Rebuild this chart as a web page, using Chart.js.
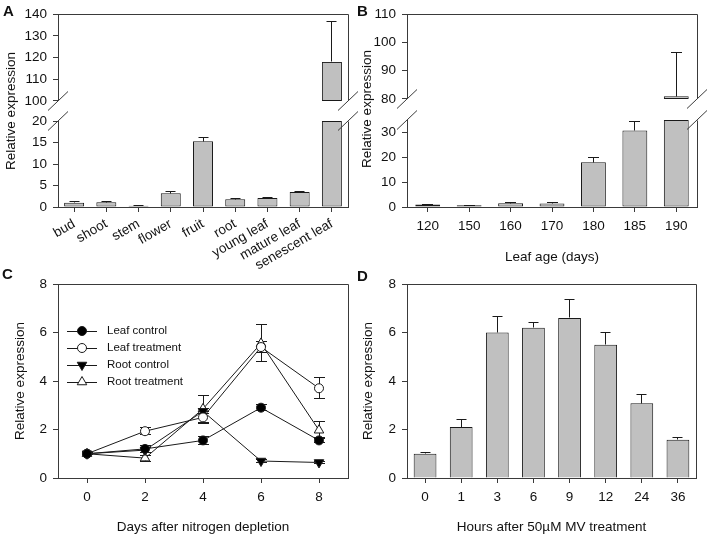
<!DOCTYPE html>
<html>
<head>
<meta charset="utf-8">
<script src="https://cdn.jsdelivr.net/npm/chart.js"></script>
<style>
  body { margin: 0; background: #fff; }
  #page { position: relative; width: 709px; height: 536px; overflow: hidden;
          font-family: "Liberation Sans", Arial, sans-serif; color: #111; }
  canvas { position: absolute; left: 0; top: 0; }
  .lbl { position: absolute; font-weight: bold; font-size: 15px; line-height: 15px; }
  .yt { position: absolute; width: 200px; height: 16px; line-height: 16px; text-align: center;
        font-size: 13.5px; transform: rotate(-90deg); }
</style>
</head>
<body>
<div id="page">
  <canvas id="aTop" width="709" height="536"></canvas>
  <canvas id="aLow" width="709" height="536"></canvas>
  <canvas id="bTop" width="709" height="536"></canvas>
  <canvas id="bLow" width="709" height="536"></canvas>
  <canvas id="cLine" width="709" height="536"></canvas>
  <canvas id="dBar" width="709" height="536"></canvas>
  <div class="lbl" style="left:3px;top:3px">A</div>
  <div class="lbl" style="left:357px;top:3px">B</div>
  <div class="lbl" style="left:2px;top:266px">C</div>
  <div class="lbl" style="left:357px;top:268px">D</div>
  <div class="yt" style="left:-89px;top:103px">Relative expression</div>
  <div class="yt" style="left:267px;top:101px">Relative expression</div>
</div>
<script>
// panel A - tissues
const tissues = ['bud', 'shoot', 'stem', 'flower', 'fruit', 'root', 'young leaf', 'mature leaf', 'senescent leaf'];
const tissueExpr = [1.0, 1.1, 0.3, 3.2, 15.3, 1.8, 2.1, 3.5, 118];
const tissueErr = [0.2, 0.2, 0.1, 0.4, 0.85, 0.1, 0.1, 0.1, 18.5];
const aHighTicks = [100, 110, 120, 130, 140];
const aLowTicks = [0, 5, 10, 15, 20];

// panel B - leaf age
const leafAge = ['120', '150', '160', '170', '180', '185', '190'];
const ageExpr = [1.0, 0.7, 1.5, 1.4, 18.0, 30.8, 81];
const ageErr = [0.15, 0.1, 0.2, 0.3, 1.9, 3.5, 15.5];
const bHighTicks = [80, 90, 100, 110];
const bLowTicks = [0, 10, 20, 30];
const bLowMax = 35;

// panel C - nitrogen depletion
const days = [0, 2, 4, 6, 8];
const leafControl = [1.0, 1.2, 1.55, 2.9, 1.55];
const leafControlErr = [0.05, 0.15, 0.15, 0.12, 0.1];
const leafTreat = [1.0, 1.93, 2.5, 5.4, 3.7];
const leafTreatErr = [0.05, 0.15, 0.25, 0.22, 0.43];
const rootControl = [1.0, 1.15, 2.75, 0.7, 0.64];
const rootControlErr = [0.05, 0.1, 0.1, 0.06, 0.05];
const rootTreat = [1.0, 0.82, 2.85, 5.55, 1.97];
const rootTreatErr = [0.05, 0.12, 0.55, 0.76, 0.35];
const cTicks = [0, 2, 4, 6, 8];

// panel D - MV treatment
const hours = ['0', '1', '3', '6', '9', '12', '24', '36'];
const mvExpr = [1.0, 2.1, 6.0, 6.2, 6.6, 5.5, 3.08, 1.58];
const mvErr = [0.06, 0.33, 0.68, 0.22, 0.75, 0.52, 0.37, 0.08];
const dTicks = [0, 2, 4, 6, 8];

const W = 709, H = 536;
const AXIS = '#3a3a3a';
const INK = '#1a1a1a';

Chart.defaults.font.family = '"Liberation Sans", Arial, sans-serif';
Chart.defaults.font.size = 13.5;
Chart.defaults.color = '#111';
Chart.defaults.animation = false;
Chart.defaults.responsive = false;
Chart.defaults.events = [];
Chart.defaults.plugins.legend.display = false;
Chart.defaults.plugins.tooltip.enabled = false;

function align(v) { return Math.round(v - 0.5) + 0.5; }

// error bars, drawn from the y scale
function drawErrors(chart, o) {
  const { ctx, chartArea: a } = chart;
  const ys = chart.scales.y;
  ctx.save();
  ctx.beginPath();
  ctx.rect(a.left, a.top - 1, a.right - a.left, a.bottom - a.top + 2);
  ctx.clip();
  ctx.strokeStyle = INK;
  ctx.lineWidth = 1;
  o.sets.forEach(s => {
    const meta = chart.getDatasetMeta(s.index);
    s.values.forEach((v, i) => {
      const e = s.errors[i];
      const x = align(meta.data[i].x);
      const yTop = align(ys.getPixelForValue(v + e));
      const yBot = align(ys.getPixelForValue(s.both ? v - e : v));
      ctx.beginPath();
      ctx.moveTo(x, yTop); ctx.lineTo(x, yBot);
      ctx.moveTo(x - o.cap, yTop); ctx.lineTo(x + o.cap, yTop);
      if (s.both) { ctx.moveTo(x - o.cap, yBot); ctx.lineTo(x + o.cap, yBot); }
      ctx.stroke();
    });
  });
  ctx.restore();
}

const errorBars = {
  id: 'errorBars',
  beforeDatasetsDraw(chart, args, o) { if (o.sets) drawErrors(chart, o); }
};

// top / right frame lines
const frame = {
  id: 'frame',
  afterDraw(chart, args, o) {
    const { ctx, chartArea: a } = chart;
    const L = align(a.left), R = align(a.right), T = align(a.top), B = align(a.bottom);
    ctx.save();
    ctx.strokeStyle = AXIS;
    ctx.lineWidth = 1;
    ctx.beginPath();
    if (o.top) { ctx.moveTo(L, T); ctx.lineTo(R, T); }
    if (o.right) { ctx.moveTo(R, T); ctx.lineTo(R, B); }
    ctx.stroke();
    ctx.restore();
  }
};

// axis break slashes
const breaks = {
  id: 'breaks',
  afterDraw(chart, args, o) {
    if (!o.edge) return;
    const { ctx, chartArea: a } = chart;
    const y = o.edge === 'top' ? a.top : a.bottom;
    ctx.save();
    ctx.strokeStyle = AXIS;
    ctx.lineWidth = 1;
    ctx.beginPath();
    [a.left, a.right].forEach(x => {
      ctx.moveTo(x - 10, y + 9.5);
      ctx.lineTo(x + 10, y - 9.5);
    });
    ctx.stroke();
    ctx.restore();
  }
};

function drawMarker(ctx, style, rot, r, x, y) {
  ctx.beginPath();
  if (style === 'triangle') {
    let ang = rot * Math.PI / 180;
    for (let k = 0; k < 3; k++) {
      const px = x + Math.sin(ang) * r, py = y - Math.cos(ang) * r;
      if (k === 0) ctx.moveTo(px, py); else ctx.lineTo(px, py);
      ang += 2 * Math.PI / 3;
    }
    ctx.closePath();
  } else {
    ctx.arc(x, y, r, 0, Math.PI * 2);
  }
  ctx.fill();
  ctx.stroke();
}

// legend with line + marker sample, inside the plot area
const lineLegend = {
  id: 'lineLegend',
  afterDraw(chart, args, o) {
    if (!o.x) return;
    const ctx = chart.ctx;
    ctx.save();
    ctx.font = '11.5px "Liberation Sans", Arial, sans-serif';
    ctx.textBaseline = 'middle';
    chart.data.datasets.forEach((ds, i) => {
      const y = o.y + i * o.gap;
      ctx.strokeStyle = ds.borderColor;
      ctx.lineWidth = 1;
      ctx.beginPath();
      ctx.moveTo(o.x, y + 0.5); ctx.lineTo(o.x + o.len, y + 0.5);
      ctx.stroke();
      ctx.fillStyle = ds.pointBackgroundColor;
      drawMarker(ctx, ds.pointStyle, ds.pointRotation || 0, ds.pointRadius, o.x + o.len / 2, y);
      ctx.fillStyle = '#111';
      ctx.fillText(ds.label, o.x + o.len + 10, y);
    });
    ctx.restore();
  }
};

Chart.register(errorBars, frame, breaks, lineLegend);

function pad(area, yW, xH) {
  return { padding: { left: area.l - yW, top: area.t, right: W - area.r, bottom: H - area.b - (xH || 0) } };
}

function yAxis(ticksArr, min, max, width, extra) {
  return Object.assign({
    type: 'linear', min: min, max: max,
    afterBuildTicks: s => { s.ticks = ticksArr.map(v => ({ value: v })); },
    afterFit: s => { s.width = width; },
    ticks: { padding: 6 },
    grid: { drawOnChartArea: false, tickLength: 5, color: AXIS },
    border: { color: AXIS, width: 1 }
  }, extra || {});
}

function xCat(height, extra) {
  return Object.assign({
    type: 'category', offset: true,
    afterFit: s => { s.height = height; },
    ticks: { padding: 6, minRotation: 0, maxRotation: 0, autoSkip: false },
    grid: { offset: false, drawOnChartArea: false, tickLength: 5, color: AXIS },
    border: { color: AXIS, width: 1 }
  }, extra || {});
}

const barStyle = { backgroundColor: '#c0c0c0', borderColor: INK, borderWidth: 1, categoryPercentage: 1 };
const YW = 45;

// ---------- A ----------
const aTopArea = { l: 58, t: 14, r: 348, b: 101 };
const aLowArea = { l: 58, t: 121, r: 348, b: 207 };
const aHighMin = aHighTicks[0], aLowMax = aLowTicks[aLowTicks.length - 1];

new Chart('aTop', {
  type: 'bar',
  data: {
    labels: tissues,
    datasets: [Object.assign({
      data: tissueExpr.map(v => v > aHighMin ? [aHighMin, v] : null),
      barPercentage: 0.62, borderSkipped: false
    }, barStyle)]
  },
  options: {
    layout: pad(aTopArea, YW),
    scales: {
      x: { type: 'category', offset: true, display: false },
      y: yAxis(aHighTicks, aHighMin, aHighTicks[aHighTicks.length - 1], YW)
    },
    plugins: {
      errorBars: { cap: 5, sets: [{ index: 0, values: tissueExpr, errors: tissueErr }] },
      frame: { top: true, right: true },
      breaks: { edge: 'bottom' }
    }
  }
});

new Chart('aLow', {
  type: 'bar',
  data: {
    labels: tissues,
    datasets: [Object.assign({
      data: tissueExpr.map(v => Math.min(v, aLowMax)),
      barPercentage: 0.62, borderSkipped: false
    }, barStyle)]
  },
  options: {
    layout: pad(aLowArea, YW, 80),
    scales: {
      x: xCat(80, { ticks: { padding: 4, minRotation: 30, maxRotation: 30, autoSkip: false } }),
      y: yAxis(aLowTicks, 0, aLowMax, YW)
    },
    plugins: {
      errorBars: { cap: 5, sets: [{ index: 0, values: tissueExpr, errors: tissueErr }] },
      frame: { right: true },
      breaks: { edge: 'top' }
    }
  }
});

// ---------- B ----------
const bTopArea = { l: 407, t: 14, r: 697, b: 99 };
const bLowArea = { l: 407, t: 120, r: 697, b: 207 };
const bHighMin = bHighTicks[0];

new Chart('bTop', {
  type: 'bar',
  data: {
    labels: leafAge,
    datasets: [Object.assign({
      data: ageExpr.map(v => v > bHighMin ? [bHighMin, v] : null),
      barPercentage: 0.6, borderSkipped: false
    }, barStyle)]
  },
  options: {
    layout: pad(bTopArea, YW),
    scales: {
      x: { type: 'category', offset: true, display: false },
      y: yAxis(bHighTicks, bHighMin, bHighTicks[bHighTicks.length - 1], YW)
    },
    plugins: {
      errorBars: { cap: 5.5, sets: [{ index: 0, values: ageExpr, errors: ageErr }] },
      frame: { top: true, right: true },
      breaks: { edge: 'bottom' }
    }
  }
});

new Chart('bLow', {
  type: 'bar',
  data: {
    labels: leafAge,
    datasets: [Object.assign({
      data: ageExpr.map(v => Math.min(v, bLowMax)),
      barPercentage: 0.6, borderSkipped: false
    }, barStyle)]
  },
  options: {
    layout: pad(bLowArea, YW, 58),
    scales: {
      x: xCat(58, { title: { display: true, text: 'Leaf age (days)', padding: 0 } }),
      y: yAxis(bLowTicks, 0, bLowMax, YW)
    },
    plugins: {
      errorBars: { cap: 5.5, sets: [{ index: 0, values: ageExpr, errors: ageErr }] },
      frame: { right: true },
      breaks: { edge: 'top' }
    }
  }
});

// ---------- C ----------
const cArea = { l: 58, t: 284, r: 348, b: 478 };
const lineBase = { borderColor: INK, borderWidth: 1, pointBorderColor: INK, pointBorderWidth: 1, tension: 0 };
const pts = vals => days.map((d, i) => ({ x: d, y: vals[i] }));

new Chart('cLine', {
  type: 'line',
  data: {
    datasets: [
      Object.assign({ label: 'Leaf control', data: pts(leafControl), pointStyle: 'circle', pointRadius: 4.5, pointBackgroundColor: '#000' }, lineBase),
      Object.assign({ label: 'Leaf treatment', data: pts(leafTreat), pointStyle: 'circle', pointRadius: 4.5, pointBackgroundColor: '#fff' }, lineBase),
      Object.assign({ label: 'Root control', data: pts(rootControl), pointStyle: 'triangle', pointRotation: 180, pointRadius: 5.5, pointBackgroundColor: '#000' }, lineBase),
      Object.assign({ label: 'Root treatment', data: pts(rootTreat), pointStyle: 'triangle', pointRadius: 5.5, pointBackgroundColor: '#fff' }, lineBase)
    ]
  },
  options: {
    layout: pad(cArea, 45.4, 57),
    scales: {
      x: {
        type: 'linear', min: -1, max: 9,
        afterBuildTicks: s => { s.ticks = days.map(v => ({ value: v })); },
        afterFit: s => { s.height = 57; },
        ticks: { padding: 6 },
        grid: { drawOnChartArea: false, tickLength: 5, color: AXIS },
        border: { color: AXIS, width: 1 },
        title: { display: true, text: 'Days after nitrogen depletion', padding: 0 }
      },
      y: yAxis(cTicks, 0, 8, 45.4, { title: { display: true, text: 'Relative expression', padding: 0 } })
    },
    plugins: {
      errorBars: {
        cap: 5.5, sets: [
          { index: 0, values: leafControl, errors: leafControlErr, both: true },
          { index: 1, values: leafTreat, errors: leafTreatErr, both: true },
          { index: 2, values: rootControl, errors: rootControlErr, both: true },
          { index: 3, values: rootTreat, errors: rootTreatErr, both: true }
        ]
      },
      frame: { top: true, right: true },
      lineLegend: { x: 67, y: 331, gap: 17, len: 30 }
    }
  }
});

// ---------- D ----------
const dArea = { l: 407, t: 284, r: 696, b: 478 };

new Chart('dBar', {
  type: 'bar',
  data: {
    labels: hours,
    datasets: [Object.assign({ data: mvExpr, barPercentage: 0.63 }, barStyle)]
  },
  options: {
    layout: pad(dArea, 46.4, 57),
    scales: {
      x: xCat(57, { title: { display: true, text: 'Hours after 50\u00b5M MV treatment', padding: 0 } }),
      y: yAxis(dTicks, 0, 8, 46.4, { title: { display: true, text: 'Relative expression', padding: 0 } })
    },
    plugins: {
      errorBars: { cap: 5, sets: [{ index: 0, values: mvExpr, errors: mvErr }] },
      frame: { top: true, right: true }
    }
  }
});
</script>
</body>
</html>
